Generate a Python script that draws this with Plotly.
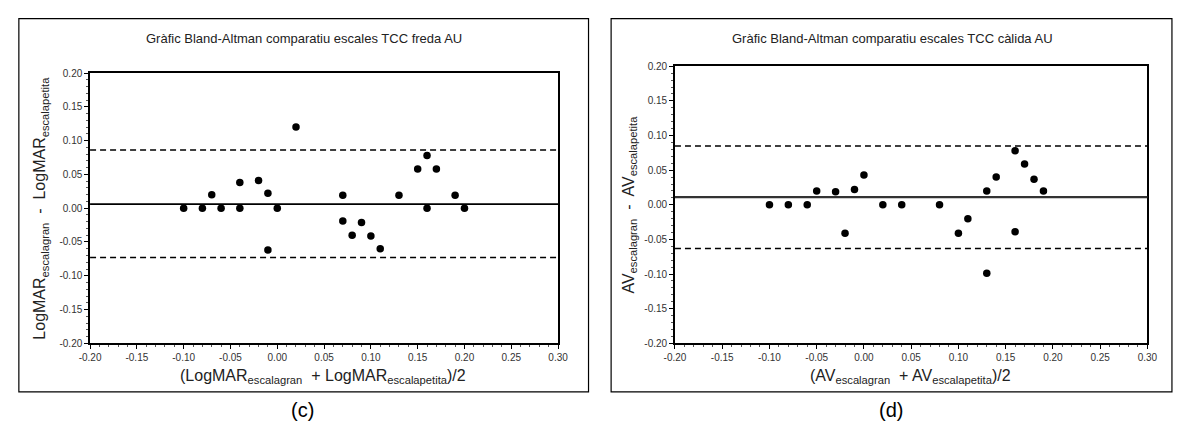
import plotly.graph_objects as go

W, H = 1179, 430

# ---- Data: left panel (c) LogMAR, TCC freda AU ----
c_mean_x = [-0.10, -0.08, -0.07, -0.06, -0.04, -0.04, -0.02, -0.01, -0.01, 0.00, 0.02,
            0.07, 0.07, 0.08, 0.09, 0.10, 0.11, 0.13, 0.15, 0.16, 0.16, 0.17, 0.19, 0.20]
c_diff_y = [0.000, 0.000, 0.020, 0.000, 0.038, 0.000, 0.041, 0.022, -0.062, 0.000, 0.120,
            0.019, -0.019, -0.040, -0.021, -0.041, -0.060, 0.019, 0.058, 0.078, 0.000, 0.058, 0.019, 0.000]
c_bias = 0.006
c_upper = 0.086
c_lower = -0.073

# ---- Data: right panel (d) AV, TCC calida AU ----
d_mean_x = [-0.10, -0.08, -0.06, -0.05, -0.03, -0.02, -0.01, 0.00, 0.02, 0.04, 0.08,
            0.10, 0.11, 0.13, 0.13, 0.14, 0.16, 0.16, 0.17, 0.18, 0.19]
d_diff_y = [0.000, 0.000, 0.000, 0.020, 0.019, -0.041, 0.022, 0.043, 0.000, 0.000, 0.000,
            -0.041, -0.020, -0.099, 0.020, 0.040, 0.078, -0.039, 0.059, 0.037, 0.020]
d_bias = 0.011
d_upper = 0.085
d_lower = -0.063

x_tickvals = [-0.20, -0.15, -0.10, -0.05, 0.00, 0.05, 0.10, 0.15, 0.20, 0.25, 0.30]
x_ticktext = ["-0.20", "-0.15", "-0.10", "-0.05", "0.00", "0.05", "0.10", "0.15", "0.20", "0.25", "0.30"]
y_tickvals = [-0.20, -0.15, -0.10, -0.05, 0.00, 0.05, 0.10, 0.15, 0.20]
y_ticktext = ["-0.20", "-0.15", "-0.10", "-0.05", "0.00", "0.05", "0.10", "0.15", "0.20"]

titles = ["Gràfic Bland-Altman comparatiu escales TCC freda AU",
          "Gràfic Bland-Altman comparatiu escales TCC càlida AU"]
x_titles = ["(LogMAR<sub>escalagran</sub>  + LogMAR<sub>escalapetita</sub>)/2",
            "(AV<sub>escalagran</sub>  + AV<sub>escalapetita</sub>)/2"]
y_titles = ["LogMAR<sub>escalagran</sub>  -  LogMAR<sub>escalapetita</sub>",
            "AV<sub>escalagran</sub>  -  AV<sub>escalapetita</sub>"]
panel_labels = ["(c)", "(d)"]

FONT = "Liberation Sans, Arial, sans-serif"
TXT = "#222222"

def px(x):
    return x / W

def py(y):
    return 1 - y / H

fig = go.Figure()

fig.add_trace(go.Scatter(x=c_mean_x, y=c_diff_y, mode="markers", xaxis="x", yaxis="y",
                         marker=dict(color="black", size=7.5), showlegend=False))
fig.add_trace(go.Scatter(x=d_mean_x, y=d_diff_y, mode="markers", xaxis="x2", yaxis="y2",
                         marker=dict(color="black", size=7.5), showlegend=False))

# plot area pixel boxes
areas = [dict(l=80.5, r=557, t=69, b=347), dict(l=676, r=1157, t=62, b=347)]

def xaxis_cfg(a, anchor):
    return dict(domain=[px(a["l"]), px(a["r"])], anchor=anchor, range=[-0.20, 0.30],
                tickvals=x_tickvals, ticktext=x_ticktext, ticks="outside", ticklen=4,
                tickcolor="black", showline=True, linecolor="black", linewidth=1.6,
                mirror=True, showgrid=False, zeroline=False,
                tickfont=dict(family=FONT, size=10, color="#333333"),
                minor=dict(dtick=0.01, ticks="outside", ticklen=2, tickcolor="#555555", showgrid=False))

def yaxis_cfg(a, anchor):
    return dict(domain=[py(a["b"]), py(a["t"])], anchor=anchor, range=[-0.20, 0.20],
                tickvals=y_tickvals, ticktext=y_ticktext, ticks="outside", ticklen=4,
                tickcolor="black", showline=True, linecolor="black", linewidth=1.6,
                mirror=True, showgrid=False, zeroline=False,
                tickfont=dict(family=FONT, size=10, color="#333333"),
                minor=dict(dtick=0.01, ticks="outside", ticklen=2, tickcolor="#555555", showgrid=False))

shapes = []
annotations = []

for i, (bias, up, lo) in enumerate([(c_bias, c_upper, c_lower), (d_bias, d_upper, d_lower)]):
    xr = "x domain" if i == 0 else "x2 domain"
    yr = "y" if i == 0 else "y2"
    shapes.append(dict(type="line", xref=xr, yref=yr, x0=0, x1=1, y0=bias, y1=bias,
                       line=dict(color="black" if i == 0 else "#333333", width=1.8 if i == 0 else 2.2)))
    for v in (up, lo):
        shapes.append(dict(type="line", xref=xr, yref=yr, x0=0, x1=1, y0=v, y1=v,
                           line=dict(color="black", width=1.5, dash="6px,4px")))

# outer frames
frames = [(8, 13, 588, 397), (611, 13, 1182, 397)]
for (x0, y0, x1, y1) in frames:
    shapes.append(dict(type="rect", xref="paper", yref="paper", x0=px(x0), x1=px(x1),
                       y0=py(y1), y1=py(y0), line=dict(color="black", width=1.2), layer="below"))

title_x = [298, 897]
xt_x = [318, 916]
yt_x = [30, 629.5]
yt_y = [208, 204]
lab_x = [297, 896]
for i in range(2):
    annotations.append(dict(text=titles[i], x=px(title_x[i]), y=py(33), xref="paper", yref="paper",
                            showarrow=False, xanchor="center", yanchor="middle",
                            font=dict(family=FONT, size=13, color=TXT)))
    annotations.append(dict(text=x_titles[i], x=px(xt_x[i]), y=py(381), xref="paper", yref="paper",
                            showarrow=False, xanchor="center", yanchor="middle",
                            font=dict(family=FONT, size=16, color=TXT)))
    annotations.append(dict(text=y_titles[i], x=px(yt_x[i]), y=py(yt_y[i]), xref="paper", yref="paper",
                            showarrow=False, xanchor="center", yanchor="middle", textangle=-90,
                            font=dict(family=FONT, size=16, color=TXT)))
    annotations.append(dict(text=panel_labels[i], x=px(lab_x[i]), y=py(416), xref="paper", yref="paper",
                            showarrow=False, xanchor="center", yanchor="middle",
                            font=dict(family=FONT, size=20, color="black")))

fig.update_layout(
    width=W, height=H, margin=dict(l=0, r=0, t=0, b=0),
    paper_bgcolor="white", plot_bgcolor="white",
    xaxis=xaxis_cfg(areas[0], "y"), yaxis=yaxis_cfg(areas[0], "x"),
    xaxis2=xaxis_cfg(areas[1], "y2"), yaxis2=yaxis_cfg(areas[1], "x2"),
    shapes=shapes, annotations=annotations, showlegend=False,
)

fig.write_html("out.html", config={"displayModeBar": False},
               post_script="document.body.style.margin='0';document.body.style.padding='0';"
                           "document.body.style.overflow='hidden';")
